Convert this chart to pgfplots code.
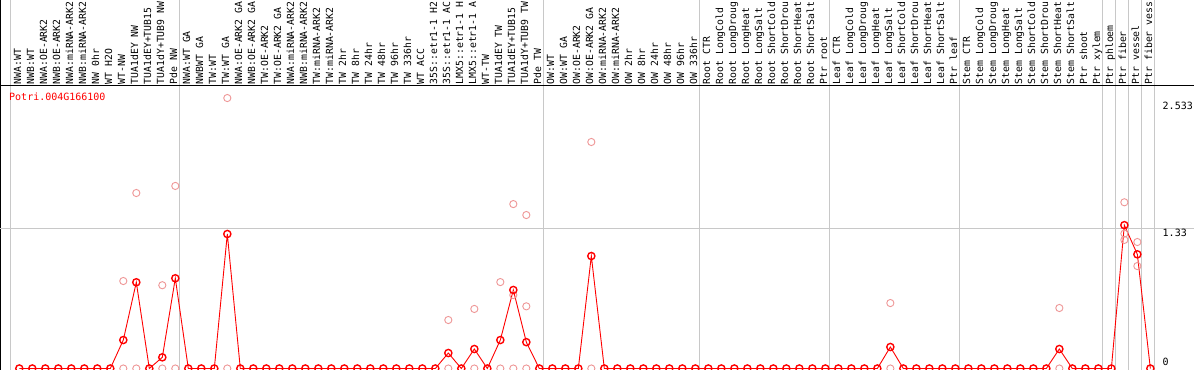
\documentclass[border=0pt]{standalone}
\usepackage{pgfplots}
\pgfplotsset{compat=1.18}
\usepackage{fontspec}
\setmainfont{DejaVu Sans Mono}
\definecolor{pinkc}{RGB}{238,150,150}
\definecolor{gridc}{RGB}{200,200,200}
\begin{document}
\begin{tikzpicture}
\fontsize{10bp}{12bp}\selectfont
\begin{axis}[name=ax, at={(0,0)}, anchor=south west, scale only axis,
  width=1194bp, height=370bp,
  xmin=-0.4846, xmax=91.36, ymin=-0.01423, ymax=3.4962,
  xtick=\empty, ytick=\empty,
  extra x ticks={0.338,13.338,41.338,53.338,63.338,73.338,84.338,85.338,86.338,87.338,88.338},
  extra x tick labels={},
  extra y ticks={1.33}, extra y tick labels={},
  extra tick style={grid=major, major tick length=0pt},
  major grid style={draw=gridc, line width=1bp},
  axis line style={black, line width=1bp},
]
% replicate values (light)
\addplot[only marks, mark=o, mark size=3.6bp, draw=pinkc, mark options={line width=0.9bp, draw=pinkc}] coordinates {
(9,0.83) (9,0) (10,1.665) (10,0) (12,0.79) (12,0) (13,1.732) (13,0)
(17,2.566) (17,0) (34,0.46) (34,0) (36,0.565) (36,0)
(38,0.82) (38,0) (39,1.56) (39,0.697) (39,0) (40,1.456) (40,0.59) (40,0)
(45,2.149) (45,0) (68,0.621) (68,0) (81,0.574) (81,0)
(86,1.577) (86,1.28) (86,1.22) (87,1.2) (87,0.972)
};
% mean values
\addplot[red, line width=0.9bp, mark=o, mark size=3.6bp, mark options={line width=1.4bp}] coordinates {
(1,0) (2,0) (3,0) (4,0) (5,0) (6,0) (7,0) (8,0) (9,0.27) (10,0.818)
(11,0) (12,0.106) (13,0.856) (14,0) (15,0) (16,0) (17,1.276) (18,0) (19,0) (20,0)
(21,0) (22,0) (23,0) (24,0) (25,0) (26,0) (27,0) (28,0) (29,0) (30,0)
(31,0) (32,0) (33,0) (34,0.147) (35,0) (36,0.185) (37,0) (38,0.27) (39,0.745) (40,0.25)
(41,0) (42,0) (43,0) (44,0) (45,1.067) (46,0) (47,0) (48,0) (49,0) (50,0)
(51,0) (52,0) (53,0) (54,0) (55,0) (56,0) (57,0) (58,0) (59,0) (60,0)
(61,0) (62,0) (63,0) (64,0) (65,0) (66,0) (67,0) (68,0.204) (69,0) (70,0)
(71,0) (72,0) (73,0) (74,0) (75,0) (76,0) (77,0) (78,0) (79,0) (80,0)
(81,0.185) (82,0) (83,0) (84,0) (85,0) (86,1.36) (87,1.083) (88,0)
};
\end{axis}
\draw[black, line width=1bp] (0,284bp) -- (1194bp,284bp);
\foreach \lab [count=\i] in {NWA:WT,NWB:WT,NWA:OE-ARK2,NWB:OE-ARK2,NWA:miRNA-ARK2,NWB:miRNA-ARK2,NW 0hr,WT H2O,WT-NW,TUA1dEY NW,TUA1dEY+TUB15,TUA1dY+TUB9 NW,Pde NW,
NWA:WT GA,NWBWT GA,TW:WT,TW:WT GA,NWA:OE-ARK2 GA,NWB:OE-ARK2 GA,TW:OE-ARK2,TW:OE-ARK2 GA,NWA:miRNA-ARK2,NWB:miRNA-ARK2,TW:miRNA-ARK2,TW:miRNA-ARK2,TW 2hr,TW 8hr,TW 24hr,TW 48hr,TW 96hr,TW 336hr,WT ACC,35S::etr1-1 H2,35S::etr1-1 AC,LMX5::etr1-1 H,LMX5::etr1-1 A,WT-TW,TUA1dEY TW,TUA1dEY+TUB15,TUA1dY+TUB9 TW,Pde TW,
OW:WT,OW:WT GA,OW:OE-ARK2,OW:OE-ARK2 GA,OW:miRNA-ARK2,OW:miRNA-ARK2,OW 2hr,OW 8hr,OW 24hr,OW 48hr,OW 96hr,OW 336hr,
Root CTR,Root LongCold,Root LongDroug,Root LongHeat,Root LongSalt,Root ShortCold,Root ShortDrou,Root ShortHeat,Root ShortSalt,Ptr root,
Leaf CTR,Leaf LongCold,Leaf LongDroug,Leaf LongHeat,Leaf LongSalt,Leaf ShortCold,Leaf ShortDrou,Leaf ShortHeat,Leaf ShortSalt,Ptr leaf,
Stem CTR,Stem LongCold,Stem LongDroug,Stem LongHeat,Stem LongSalt,Stem ShortCold,Stem ShortDrou,Stem ShortHeat,Stem ShortSalt,Ptr shoot,Ptr xylem,Ptr phloem,Ptr fiber,Ptr vessel,Ptr fiber vess}
{\node[rotate=90, anchor=base west, inner sep=0pt, text=black, font=\fontsize{9.8bp}{11bp}\selectfont] at ({(8+13*\i)*1bp},285.5bp) {\lab};}
\node[anchor=base west, inner sep=0pt, text=red] at (9bp,269.3bp) {Potri.004G166100};
\node[anchor=north west, inner sep=0pt] at (1162.5bp,268.3bp) {2.533};
\node[anchor=north west, inner sep=0pt] at (1162.5bp,141bp) {1.33};
\node[anchor=base west, inner sep=0pt] at (1162.5bp,4.5bp) {0};
\pgfresetboundingbox
\path[use as bounding box] (0,0) rectangle (1194bp,370bp);
\end{tikzpicture}
\end{document}
